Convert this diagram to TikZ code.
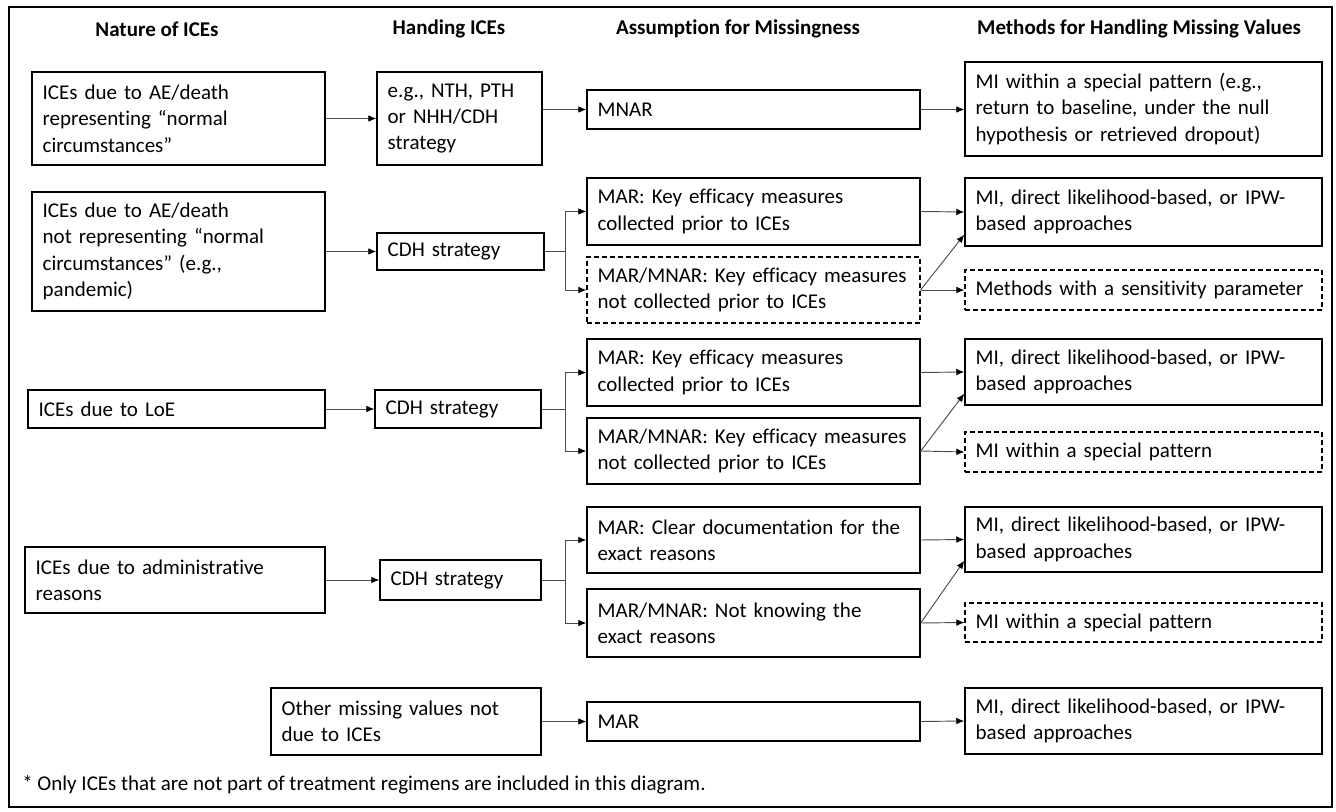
\documentclass[tikz,border=0pt]{standalone}
\usepackage{fontspec}
\setmainfont{Carlito}[Ligatures=NoCommon]
\usetikzlibrary{arrows.meta}
\begin{document}
\begin{tikzpicture}[x=0.75pt,y=-0.75pt,
  every node/.style={font=\fontsize{15.75}{19.8}\selectfont},
  box/.style={draw=black, line width=1.1pt, inner xsep=8pt, inner ysep=0pt, align=left, anchor=center},
  dbox/.style={box, dash pattern=on 3.5pt off 2.5pt, line width=0.9pt},
  hdr/.style={font=\fontsize{15.75}{19.8}\selectfont\bfseries, inner sep=0pt},
  conn/.style={draw=black!70, line width=0.7pt, -{Latex[length=6pt,width=5pt,color=black]}},
  plain/.style={draw=black!70, line width=0.7pt},
  colA/.style={minimum width=249.75pt, text width=233.75pt},
  colM/.style={minimum width=267.75pt, text width=251.75pt}
]
\useasboundingbox (0,0) rectangle (1336,812);
\draw[line width=1.5pt] (9,7) rectangle (1332,807);

% headers
\node[hdr] (hN) at (157,29) {Nature of ICEs};
\node[hdr] (hH) at (449,29) {Handing ICEs};
\node[hdr] (hA) at (738,29) {Assumption for Missingness};
\node[hdr] (hM) at (1139,29) {Methods for Handling Missing Values};

% column 1
\node[box, minimum width=219.75pt, text width=203.75pt, minimum height=69.75pt] (n1) at (178.5,118.5)
  {ICEs due to AE/death\\representing “normal\\circumstances”};
\node[box, minimum width=219.75pt, text width=203.75pt, minimum height=89.25pt] (n2) at (178.5,251.5)
  {ICEs due to AE/death\\not representing “normal\\circumstances” (e.g.,\\pandemic)};
\node[box, minimum width=222.75pt, text width=206.75pt, minimum height=28.5pt] (n3) at (176.5,409)
  {ICEs due to LoE};
\node[box, minimum width=225pt, text width=209pt, minimum height=49.5pt] (n4) at (175,580)
  {ICEs due to administrative\\reasons};
\node[box, minimum width=202.5pt, text width=186.5pt, minimum height=50.25pt] (n5) at (406,721.5)
  {Other missing values not\\due to ICEs};

% column 2
\node[box, minimum width=123.75pt, text width=107.75pt, minimum height=69.75pt] (h1) at (459.5,118.5)
  {e.g., NTH, PTH\\or NHH/CDH\\strategy};
\node[box, minimum width=125.25pt, text width=109.25pt, minimum height=27.75pt] (h2) at (460.5,251.5)
  {CDH strategy};
\node[box, minimum width=124.5pt, text width=108.5pt, minimum height=28.5pt] (h3) at (458,409)
  {CDH strategy};
\node[box, minimum width=120.75pt, text width=104.75pt, minimum height=30pt] (h4) at (460.5,580)
  {CDH strategy};

% column 3
\node[box, colA, minimum height=29.25pt] (a1) at (753.5,109.5) {MNAR};
\node[box, colA, minimum height=50.25pt] (a2a) at (753.5,211.5)
  {MAR: Key efficacy measures\\collected prior to ICEs};
\node[dbox, colA, minimum height=49.5pt] (a2b) at (753.5,290)
  {MAR/MNAR: Key efficacy measures\\not collected prior to ICEs};
\node[box, colA, minimum height=50.25pt] (a3a) at (753.5,372.5)
  {MAR: Key efficacy measures\\collected prior to ICEs};
\node[box, colA, minimum height=49.5pt] (a3b) at (753.5,451)
  {MAR/MNAR: Key efficacy measures\\not collected prior to ICEs};
\node[box, colA, minimum height=49.5pt] (a4a) at (753.5,540)
  {MAR: Clear documentation for the\\exact reasons};
\node[box, colA, minimum height=51pt] (a4b) at (753.5,623)
  {MAR/MNAR: Not knowing the\\exact reasons};
\node[box, colA, minimum height=29.25pt] (a5) at (753.5,721.5) {MAR};

% column 4
\node[box, colM, minimum height=70.5pt] (m1) at (1143.5,109)
  {MI within a special pattern (e.g.,\\return to baseline, under the null\\hypothesis or retrieved dropout)};
\node[box, colM, minimum height=51pt] (m2a) at (1143.5,212)
  {MI, direct likelihood-based, or IPW-\\based approaches};
\node[dbox, colM, minimum height=30pt] (m2b) at (1143.5,290)
  {Methods with a sensitivity parameter};
\node[box, colM, minimum height=49.5pt] (m3a) at (1143.5,372)
  {MI, direct likelihood-based, or IPW-\\based approaches};
\node[dbox, colM, minimum height=30pt] (m3b) at (1143.5,452)
  {MI within a special pattern};
\node[box, colM, minimum height=48.75pt] (m4a) at (1143.5,539.5)
  {MI, direct likelihood-based, or IPW-\\based approaches};
\node[dbox, colM, minimum height=29.25pt] (m4b) at (1143.5,622.5)
  {MI within a special pattern};
\node[box, colM, minimum height=49.5pt] (m5) at (1143.5,721)
  {MI, direct likelihood-based, or IPW-\\based approaches};

% footnote
\node[anchor=west, inner sep=0pt] (fn) at (22,785)
  {* Only ICEs that are not part of treatment regimens are included in this diagram.};

% branch points
\coordinate (br2) at (565,251.5);
\coordinate (br3) at (565,409);
\coordinate (br4) at (565,580);

% row 1
\draw[conn] (n1.east) -- (h1.west);
\draw[conn] (h1.east |- a1.west) -- (a1.west);
\draw[conn] (a1.east) -- (a1.east -| m1.west);

% row 2
\draw[conn] (n2.east) -- (h2.west);
\draw[plain] (h2.east) -- (br2);
\draw[conn] (br2) |- (a2a.west);
\draw[conn] (br2) |- (a2b.west);
\draw[conn] (a2a.east) -- (m2a.west);
\draw[conn] (a2b.east) -- ([yshift=9pt]m2a.south west);
\draw[conn] (a2b.east) -- (m2b.west);

% row 3
\draw[conn] (n3.east) -- (h3.west);
\draw[plain] (h3.east) -- (br3);
\draw[conn] (br3) |- (a3a.west);
\draw[conn] (br3) |- (a3b.west);
\draw[conn] (a3a.east) -- (m3a.west);
\draw[conn] (a3b.east) -- ([yshift=9pt]m3a.south west);
\draw[conn] (a3b.east) -- (m3b.west);

% row 4
\draw[conn] (n4.east) -- (h4.west);
\draw[plain] (h4.east) -- (br4);
\draw[conn] (br4) |- (a4a.west);
\draw[conn] (br4) |- (a4b.west);
\draw[conn] (a4a.east) -- (m4a.west);
\draw[conn] (a4b.east) -- ([yshift=9pt]m4a.south west);
\draw[conn] (a4b.east) -- (m4b.west);

% row 5
\draw[conn] (n5.east) -- (a5.west);
\draw[conn] (a5.east) -- (m5.west);
\end{tikzpicture}
\end{document}
